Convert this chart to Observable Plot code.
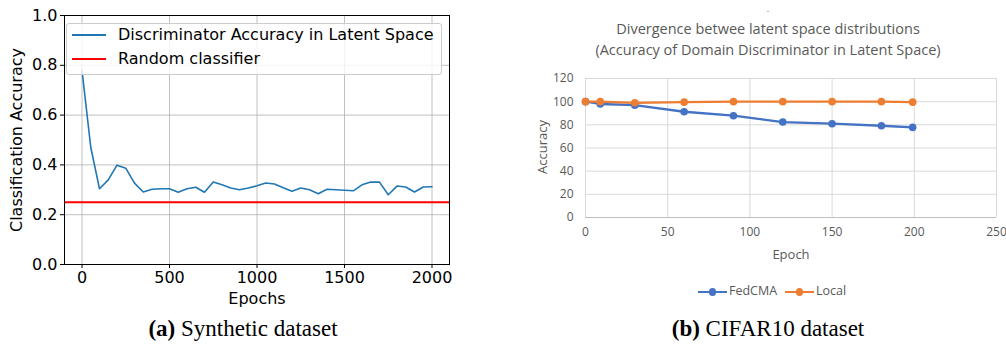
<!DOCTYPE html>
<html><head><meta charset="utf-8">
<script src="https://cdn.jsdelivr.net/npm/d3@7"></script>
<script src="https://cdn.jsdelivr.net/npm/@observablehq/plot@0.6"></script>
<style>
body{margin:0;background:#fff;}
#root{position:relative;width:1006px;height:345px;overflow:hidden;background:#fff;}
.abs{position:absolute;white-space:nowrap;line-height:1;}
#leftWrap{position:absolute;left:0;top:0;width:460px;height:310px;}
#rightWrap{position:absolute;left:510px;top:0;width:496px;height:310px;}
svg{overflow:visible;}
</style></head><body><div id="root">
<div id="leftWrap"></div>
<div id="rightWrap"></div>
</div>
<script>
// ---------- (a) Synthetic dataset ----------
const epochsA = [0,50,100,150,200,250,300,350,400,450,500,550,600,650,700,750,800,850,900,950,1000,
  1050,1100,1150,1200,1250,1300,1350,1400,1450,1500,1550,1600,1650,1700,1750,1800,1850,1900,1950,2000];
const accA = [0.78,0.471,0.304,0.34,0.399,0.387,0.327,0.291,0.302,0.304,0.304,0.29,0.304,0.31,0.29,0.331,
  0.32,0.307,0.30,0.307,0.316,0.327,0.323,0.308,0.294,0.307,0.30,0.284,0.302,0.30,0.298,0.296,0.32,0.331,
  0.331,0.28,0.315,0.311,0.291,0.311,0.312];
const randomLevel = [0.25];
const xTicksA = [0,500,1000,1500,2000];
const yTicksA = [0,0.2,0.4,0.6,0.8,1.0];
const seriesNamesA = ["Discriminator Accuracy in Latent Space","Random classifier"];
const seriesColorsA = ["#1f77b4","#ff0000"];

// ---------- (b) CIFAR10 dataset ----------
const epochsB = [0,9,30,60,90,120,150,180,199];
const fedcma = [100,98,97,91.3,87.9,82.4,81,79.2,77.8];
const local = [100,100,99,99.6,100,100,100,100,99.6];
const xTicksB = [0,50,100,150,200,250];
const yTicksB = [0,20,40,60,80,100,120];
const seriesNamesB = ["FedCMA","Local"];
const seriesColorsB = ["#4472C4","#ED7D31"];

const root = document.getElementById("root");
function addText(parent, txt, css){
  const d = document.createElement("div");
  d.className = "abs";
  d.textContent = txt;
  Object.assign(d.style, css);
  parent.appendChild(d);
  return d;
}

// ---- left chart ----
const dataA = epochsA.map((e,i)=>({epoch:e, acc:accA[i]}));
const gridStyleA = {stroke:"#b0b0b0", strokeOpacity:1, strokeWidth:0.8};
const left = Plot.plot({
  width:460, height:305, marginLeft:64, marginRight:11, marginTop:15, marginBottom:41,
  style:{fontFamily:"DejaVu Sans", fontSize:"16px", color:"#000", background:"transparent", overflow:"visible"},
  x:{domain:[-100,2100]},
  y:{domain:[0,1]},
  marks:[
    Plot.gridX(xTicksA, gridStyleA),
    Plot.gridY(yTicksA, gridStyleA),
    Plot.ruleY(randomLevel,{stroke:seriesColorsA[1], strokeWidth:2}),
    Plot.line(dataA,{x:"epoch", y:"acc", stroke:seriesColorsA[0], strokeWidth:1.6}),
    Plot.frame({stroke:"#000", strokeWidth:1, strokeOpacity:1}),
    Plot.axisX({ticks:xTicksA, tickSize:4, tickPadding:3, label:null, tickFormat:d=>String(d), fontSize:16}),
    Plot.axisY({ticks:yTicksA, tickSize:4, tickPadding:3, label:null, tickFormat:d=>d.toFixed(1), fontSize:16})
  ]
});
const leftWrap = document.getElementById("leftWrap");
left.style.position = "absolute"; left.style.left = "0px"; left.style.top = "0px";
leftWrap.appendChild(left);

// axis labels
addText(leftWrap, "Classification Accuracy", {fontFamily:"DejaVu Sans", fontSize:"16px", color:"#000",
  left:"17px", top:"140px", transform:"translate(-50%,-50%) rotate(-90deg)"});
addText(leftWrap, "Epochs", {fontFamily:"DejaVu Sans", fontSize:"16px", color:"#000",
  left:"257px", top:"291px", transform:"translateX(-50%)"});

// legend (matplotlib style)
const leg = document.createElement("div");
Object.assign(leg.style, {position:"absolute", left:"66px", top:"23px", width:"374px", height:"50px",
  border:"1px solid #cccccc", borderRadius:"3px", background:"rgba(255,255,255,0.8)"});
leftWrap.appendChild(leg);
seriesNamesA.forEach((name,i)=>{
  const y = 35 + i*24;
  const ln = document.createElement("div");
  Object.assign(ln.style,{position:"absolute", left:"72px", top:(y-1)+"px", width:"34px", height:"2px", background:seriesColorsA[i]});
  leftWrap.appendChild(ln);
  addText(leftWrap, name, {fontFamily:"DejaVu Sans", fontSize:"16px", color:"#000", left:"118px", top:(y-8)+"px"});
});

// ---- right chart ----
const dataB = [];
epochsB.forEach((e,i)=>{ dataB.push({epoch:e, acc:fedcma[i], series:seriesNamesB[0]}); });
epochsB.forEach((e,i)=>{ dataB.push({epoch:e, acc:local[i], series:seriesNamesB[1]}); });
const gridStyleB = {stroke:"#d9d9d9", strokeOpacity:1, strokeWidth:1};
const right = Plot.plot({
  width:496, height:270, marginLeft:75, marginRight:10, marginTop:78, marginBottom:53,
  style:{fontFamily:"Open Sans", fontSize:"12px", color:"#595959", background:"transparent", overflow:"visible"},
  x:{domain:[0,250]},
  y:{domain:[0,120]},
  color:{domain:seriesNamesB, range:seriesColorsB},
  marks:[
    Plot.gridX(xTicksB, gridStyleB),
    Plot.gridY(yTicksB, gridStyleB),
    Plot.ruleY([0],{stroke:"#bfbfbf", strokeWidth:1}),
    Plot.line(dataB,{x:"epoch", y:"acc", stroke:"series", strokeWidth:2.3}),
    Plot.dot(dataB,{x:"epoch", y:"acc", fill:"series", r:3.8, stroke:"none"}),
    Plot.axisX({ticks:xTicksB, tickSize:0, tickPadding:10, label:null, tickFormat:d=>String(d), fontSize:12}),
    Plot.axisY({ticks:yTicksB, tickSize:0, tickPadding:12, label:null, tickFormat:d=>String(d), fontSize:12})
  ]
});
const rightWrap = document.getElementById("rightWrap");
right.style.position = "absolute"; right.style.left = "0px"; right.style.top = "0px";
rightWrap.appendChild(right);

addText(rightWrap, "-", {fontFamily:"Open Sans", fontSize:"9px", color:"#9a9a9a", left:"258px", top:"6px", transform:"translateX(-50%)"});
const titleCss = {fontFamily:"Open Sans", fontSize:"14.5px", color:"#595959", left:"258px", transform:"translateX(-50%)"};
addText(rightWrap, "Divergence betwee latent space distributions", Object.assign({top:"22px"}, titleCss));
addText(rightWrap, "(Accuracy of Domain Discriminator in Latent Space)", Object.assign({top:"43px"}, titleCss));
addText(rightWrap, "Accuracy", {fontFamily:"Open Sans", fontSize:"13px", color:"#595959",
  left:"32px", top:"147px", transform:"translate(-50%,-50%) rotate(-90deg)"});
addText(rightWrap, "Epoch", {fontFamily:"Open Sans", fontSize:"13px", color:"#595959",
  left:"281px", top:"248px", transform:"translateX(-50%)"});

// legend (Excel style)
const legX = [188, 275];
seriesNamesB.forEach((name,i)=>{
  const x0 = legX[i];
  const ln = document.createElement("div");
  Object.assign(ln.style,{position:"absolute", left:x0+"px", top:"291px", width:"29px", height:"2.3px", background:seriesColorsB[i]});
  rightWrap.appendChild(ln);
  const dot = document.createElement("div");
  Object.assign(dot.style,{position:"absolute", left:(x0+14.5-3.8)+"px", top:(292-3.8)+"px", width:"7.6px", height:"7.6px", borderRadius:"50%", background:seriesColorsB[i]});
  rightWrap.appendChild(dot);
  addText(rightWrap, name, {fontFamily:"Open Sans", fontSize:"12.5px", color:"#595959", left:(x0+31)+"px", top:"285px"});
});

// captions
const capCss = {fontFamily:"Liberation Serif", fontSize:"23px", color:"#000", top:"317px", transform:"translateX(-50%)"};
const capA = addText(root, "", Object.assign({left:"243px"}, capCss));
capA.innerHTML = "<b>(a)</b> Synthetic dataset";
const capB = addText(root, "", Object.assign({left:"768px"}, capCss));
capB.innerHTML = "<b>(b)</b> CIFAR10 dataset";
</script>
</body></html>
